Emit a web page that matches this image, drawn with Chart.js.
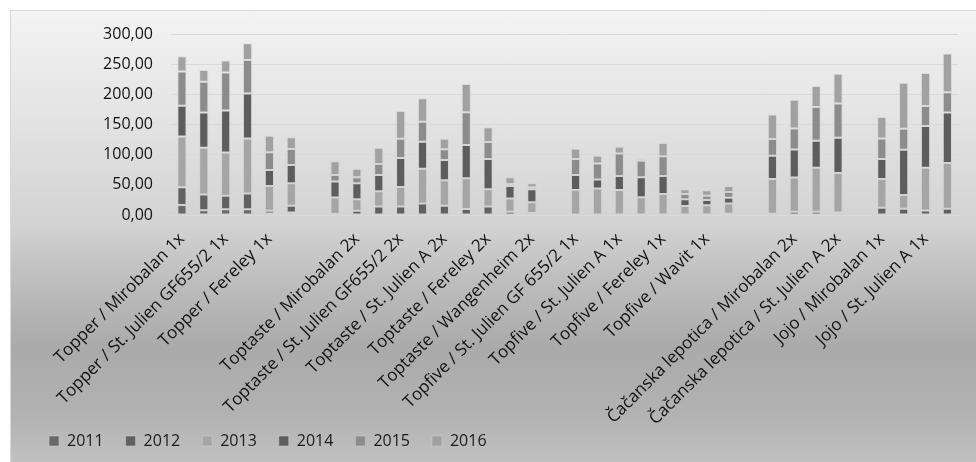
<!DOCTYPE html>
<html>
<head>
<meta charset="utf-8">
<script src="https://cdn.jsdelivr.net/npm/chart.js@4/dist/chart.umd.min.js"></script>
<style>
  html, body { margin: 0; padding: 0; background: #ffffff; }
  body { width: 976px; height: 462px; position: relative; overflow: hidden; }
  #frame {
    position: absolute; left: 10px; top: 10px; width: 980px; height: 470px;
    border: 1px solid #d9d9d9; box-sizing: border-box;
    background: linear-gradient(to bottom, #f3f3f3 0%, #e4e4e4 22%, #d2d2d2 46%, #bdbdbd 58%, #aaaaaa 72%, #b2b2b2 86%, #c6c6c6 100%);
  }
  #wrap { position: absolute; left: 0; top: 0; width: 976px; height: 462px; }
</style>
</head>
<body>
<div id="frame"></div>
<div id="wrap"><canvas id="c" width="976" height="462"></canvas></div>
<script>
// Category labels (every second name is printed; empty ones are spacer slots)
const categories = [
  'Topper / Mirobalan 1x', '', 'Topper / St. Julien GF655/2 1x', '', 'Topper / Fereley 1x', '',
  '', '',
  'Toptaste / Mirobalan 2x', '', 'Toptaste / St. Julien GF655/2 2x', '', 'Toptaste / St. Julien A 2x', '',
  'Toptaste / Fereley 2x', '', 'Toptaste / Wangenheim 2x', '',
  'Topfive / St. Julien GF 655/2 1x', '', 'Topfive / St. Julien A 1x', '', 'Topfive / Fereley 1x', '',
  'Topfive / Wavit 1x', '',
  '', '',
  'Čačanska lepotica / Mirobalan 2x', '', 'Čačanska lepotica / St. Julien A 2x', '',
  'Jojo / Mirobalan 1x', '', 'Jojo / St. Julien A 1x', ''
];

// Yield per year (null = no value)
const y2011 = [16.5, 8, 9.5, 9.5, 2.5, 4, null, null, null, null, null, null, null, null, null, null, null, null,
  null, null, null, null, null, null, null, null, null, null, null, null, null, null, null, null, null, null];
const y2012 = [29.5, 26, 22.5, 26, 4.5, 11.5, null, 1.5, 7, 14, 14, 19, 15.5, 10, 14, 5.5, 3.5, null,
  null, null, null, null, null, null, null, 2, null, 2, 5.5, 5.5, 4, null, 12, 10.5, 7.5, 10.5];
const y2013 = [84, 77.5, 71.5, 91.5, 41, 37, null, 27.5, 19, 25.5, 32.5, 57.5, 42, 51, 28.5, 22, 17.5, null,
  41.5, 44, 41.5, 29.5, 35, 15, 16, 17, null, 57.5, 56.5, 73, 65.5, null, 47.5, 22.5, 71, 75.5];
const y2014 = [51, 58.5, 69.5, 74.5, 26.5, 30.5, null, 26.5, 26.5, 27, 48, 45, 33.5, 55, 50.5, 20.5, 21.5, null,
  25, 15, 23, 33, 29.5, 11, 9, 9.5, null, 38.5, 46.5, 44.5, 58.5, null, 33.5, 75, 69, 84];
const y2015 = [57, 51, 63, 55.5, 29.5, 26.5, null, 11, 10, 18, 32, 33, 18, 54.5, 28, 3.5, 3.5, null,
  26.5, 26.5, 37.5, 27.5, 33, 9, 7, 9.5, null, 28, 35, 56, 57, null, 34, 35, 33, 33.5];
const y2016 = [25, 19.5, 20, 27.5, 27.5, 19.5, null, 22.5, 14, 27, 46, 39, 17.5, 46.5, 24.5, 11, 6.5, null,
  17, 12.5, 11, 3, 22, 7.5, 9, 10, null, 40.5, 47.5, 35, 49, null, 35.5, 76, 55, 64];

const seriesNames = ['2011', '2012', '2013', '2014', '2015', '2016'];
const seriesValues = [y2011, y2012, y2013, y2014, y2015, y2016];
const seriesColors = ['#686868', '#616161', '#a5a5a5', '#5d5d5d', '#8c8c8c', '#a1a1a1'];

const yTicks = { min: 0, max: 300, step: 50 };

const FONT = "'Open Sans', 'DejaVu Sans', sans-serif";

// Long rotated category names run down next to the legend; let them draw past the axis box.
const labelRoom = {
  id: 'labelRoom',
  afterLayout(chart) {
    chart.scales.x.bottom = chart.height;
  }
};

new Chart(document.getElementById('c'), {
  type: 'bar',
  plugins: [labelRoom],
  data: {
    labels: categories,
    datasets: seriesValues.map((vals, i) => ({
      label: seriesNames[i],
      data: vals,
      backgroundColor: seriesColors[i],
      borderColor: 'rgba(205,205,205,0.55)',
      borderWidth: 1,
      borderSkipped: false,
      barPercentage: 0.42,
      categoryPercentage: 1.0
    }))
  },
  options: {
    responsive: false,
    animation: false,
    devicePixelRatio: 1,
    layout: { padding: { left: 27, right: 13, top: 34, bottom: 3 } },
    plugins: {
      tooltip: { enabled: false },
      legend: {
        position: 'bottom',
        align: 'start',
        labels: {
          boxWidth: 10,
          boxHeight: 10,
          padding: 22,
          color: '#1a1a1a',
          font: { family: FONT, size: 16 }
        }
      }
    },
    scales: {
      x: {
        stacked: true,
        offset: true,
        grid: { display: false, drawTicks: false },
        border: { display: true, color: '#d9d9d9', width: 1 },
        ticks: {
          autoSkip: false,
          minRotation: 45,
          maxRotation: 45,
          padding: 14,
          color: '#111111',
          font: { family: FONT, size: 17 }
        },
        afterFit: (scale) => { scale.height = 196; }
      },
      y: {
        stacked: true,
        min: yTicks.min,
        max: yTicks.max,
        grid: { color: '#d9d9d9', lineWidth: 1, drawTicks: false },
        border: { display: false },
        ticks: {
          stepSize: yTicks.step,
          padding: 18,
          color: '#111111',
          font: { family: FONT, size: 16 },
          callback: (v) => v.toFixed(2).replace('.', ',')
        },
        afterFit: (scale) => { scale.width = 144; }
      }
    }
  }
});
</script>
</body>
</html>
